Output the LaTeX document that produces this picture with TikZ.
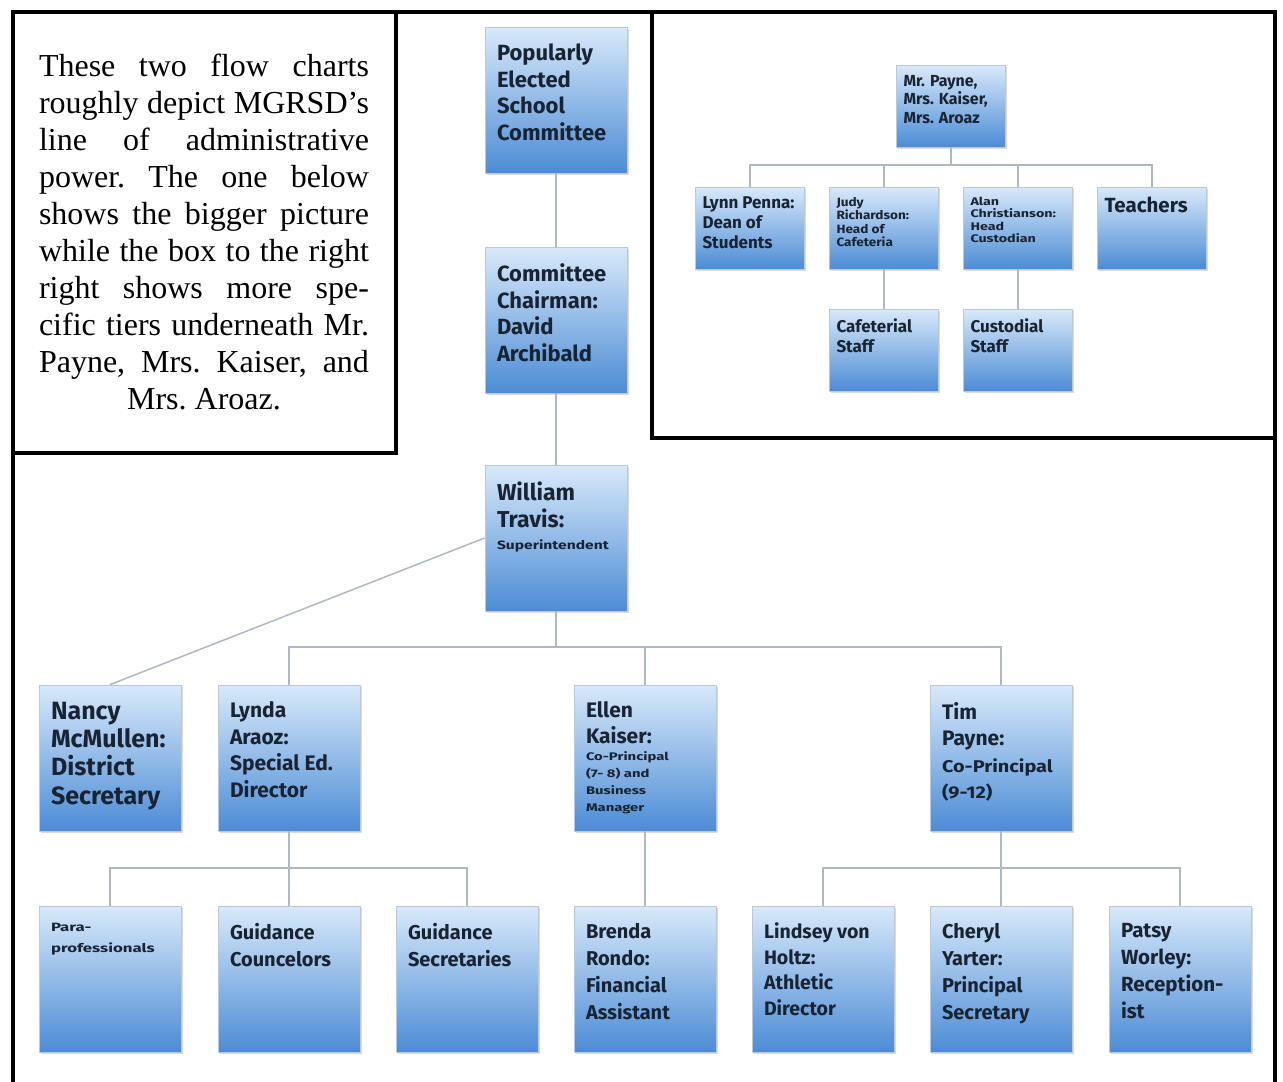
\documentclass[tikz,border=0pt]{standalone}
\usepackage{fontspec}
\usepackage{graphicx}
\setmainfont{Liberation Serif}
\newfontfamily\boxfont{Fira Sans}
\usetikzlibrary{shadows}
\definecolor{boxtop}{RGB}{216,233,250}
\definecolor{boxbot}{RGB}{76,140,213}
\definecolor{boxedge}{RGB}{190,200,212}
\definecolor{txt}{RGB}{24,36,52}
\definecolor{conn}{RGB}{176,184,196}
\newcommand\fs[2]{\fontsize{#1pt}{#2pt}\selectfont}
\newcommand\hs[2]{\scalebox{#1}[1]{#2}}
\tikzset{
  obox/.style={rectangle, top color=boxtop, bottom color=boxbot, draw=boxedge, line width=0.8pt,
    inner xsep=12pt, inner ysep=10pt, text=txt, font=\boxfont\bfseries,
    drop shadow={fill=black!40, opacity=0.35, shadow xshift=1.5pt, shadow yshift=-1.5pt}},
  sbox/.style={obox, inner xsep=7pt, inner ysep=6pt},
  conn/.style={draw=conn, line width=1.5pt},
  frame/.style={draw=black, line width=3.2pt}
}
\newcommand\mainbox[3]{\node[obox] (#1) at (#2) {\parbox[t][126pt][t]{118pt}{\vspace*{7pt}\raggedright #3}};}
\newcommand\insetbox[3]{\node[sbox] (#1) at (#2) {\parbox[t][70pt][t]{95pt}{\vspace*{4pt}\raggedright #3}};}
\begin{document}
\begin{tikzpicture}[x=1pt,y=-1pt]
\useasboundingbox (0,0) rectangle (1283,1082);
% frames
\draw[frame] (13,1082) -- (13,12) -- (1275,12) -- (1275,1082);
\draw[frame] (13,12) rectangle (396,453);
\draw[frame] (652,12) rectangle (1275,438);
% note
\node[inner sep=0pt, text=black] (note) at (204,232) {\parbox{330pt}{\fs{32}{37}\frenchspacing\noindent
\makebox[330pt][s]{These two flow charts}\\
\makebox[330pt][s]{roughly depict MGRSD’s}\\
\makebox[330pt][s]{line of administrative}\\
\makebox[330pt][s]{power. The one below}\\
\makebox[330pt][s]{shows the bigger picture}\\
\makebox[330pt][s]{while the box to the right}\\
\makebox[330pt][s]{right shows more spe-}\\
\makebox[330pt][s]{cific tiers underneath Mr.}\\
\makebox[330pt][s]{Payne, Mrs. Kaiser, and}\\
\makebox[330pt][c]{Mrs. Aroaz.}}};
% main chart
\mainbox{pop}{556,100}{\fs{22}{26.5}Popularly\\Elected\\School\\Committee}
\mainbox{chair}{556,320}{\fs{22}{26.5}Committee\\Chairman:\\David\\Archibald}
\mainbox{wt}{556,538}{\fs{23}{27}William\\Travis:\par\fs{12}{22}\hs{1.3}{Superintendent}}
\mainbox{nancy}{110,758}{\fs{25}{28.3}Nancy\\McMullen:\\District\\Secretary}
\mainbox{lynda}{289,758}{\fs{21}{26.5}Lynda\\Araoz:\\Special Ed.\\Director}
\mainbox{ellen}{645,758}{\fs{21}{26}Ellen\\Kaiser:\par\fs{11}{17}\hs{1.35}{Co-Principal}\\\hs{1.35}{(7- 8) and}\\\hs{1.35}{Business}\\\hs{1.35}{Manager}}
\mainbox{tim}{1001,758}{\fs{21}{26.5}Tim\\Payne:\par\fs{17}{26.5}\hs{1.17}{Co-Principal}\\\hs{1.17}{(9-12)}}
\mainbox{para}{110,979}{\fs{12}{21}\hs{1.4}{Para-}\\\hs{1.4}{professionals}}
\mainbox{guic}{289,979}{\fs{20}{27}Guidance\\Councelors}
\mainbox{guis}{467,979}{\fs{20}{27}Guidance\\Secretaries}
\mainbox{bren}{645,979}{\fs{20}{27}Brenda\\Rondo:\\Financial\\Assistant}
\mainbox{lind}{823,979}{\fs{19.5}{25.5}Lindsey von\\Holtz:\\Athletic\\Director}
\mainbox{cher}{1001,979}{\fs{20}{27}Cheryl\\Yarter:\\Principal\\Secretary}
\mainbox{pats}{1180,979}{\fs{20.5}{27}Patsy\\Worley:\\Reception-\\ist}
% connectors main
\coordinate (b1) at (556,647);
\coordinate (b2) at (289,868);
\coordinate (b3) at (1001,868);
\draw[conn] (pop.south) -- (chair.north);
\draw[conn] (chair.south) -- (wt.north);
\draw[conn] (wt.south) -- (b1);
\draw[conn] (lynda.north) |- (tim.north |- b1) -- (tim.north);
\draw[conn] (ellen.north) -- (ellen.north |- b1);
\draw[conn] (wt.west) -- (nancy.north);
\draw[conn] (lynda.south) -- (guic.north);
\draw[conn] (para.north) |- (guis.north |- b2) -- (guis.north);
\draw[conn] (ellen.south) -- (bren.north);
\draw[conn] (tim.south) -- (cher.north);
\draw[conn] (lind.north) |- (pats.north |- b3) -- (pats.north);
% inset chart
\insetbox{mp}{951,106}{\fs{16}{18.5}Mr. Payne,\\Mrs. Kaiser,\\Mrs. Aroaz}
\insetbox{lynn}{750,228}{\fs{17}{20}Lynn Penna:\\Dean of\\Students}
\insetbox{judy}{884,228}{\fs{12}{13.5}\hs{1.13}{Judy}\\\hs{1.13}{Richardson:}\\\hs{1.13}{Head of}\\\hs{1.13}{Cafeteria}}
\insetbox{alan}{1018,228}{\fs{11}{12.5}\hs{1.3}{Alan}\\\hs{1.3}{Christianson:}\\\hs{1.3}{Head}\\\hs{1.3}{Custodian}}
\insetbox{teach}{1152,228}{\fs{20.5}{22}Teachers}
\insetbox{caf}{884,350}{\fs{17}{20}Cafeterial\\Staff}
\insetbox{cus}{1018,350}{\fs{17}{20}Custodial\\Staff}
\coordinate (b4) at (951,165);
\draw[conn] (mp.south) -- (b4);
\draw[conn] (lynn.north) |- (teach.north |- b4) -- (teach.north);
\draw[conn] (judy.north) -- (judy.north |- b4);
\draw[conn] (alan.north) -- (alan.north |- b4);
\draw[conn] (judy.south) -- (caf.north);
\draw[conn] (alan.south) -- (cus.north);
\end{tikzpicture}
\end{document}
